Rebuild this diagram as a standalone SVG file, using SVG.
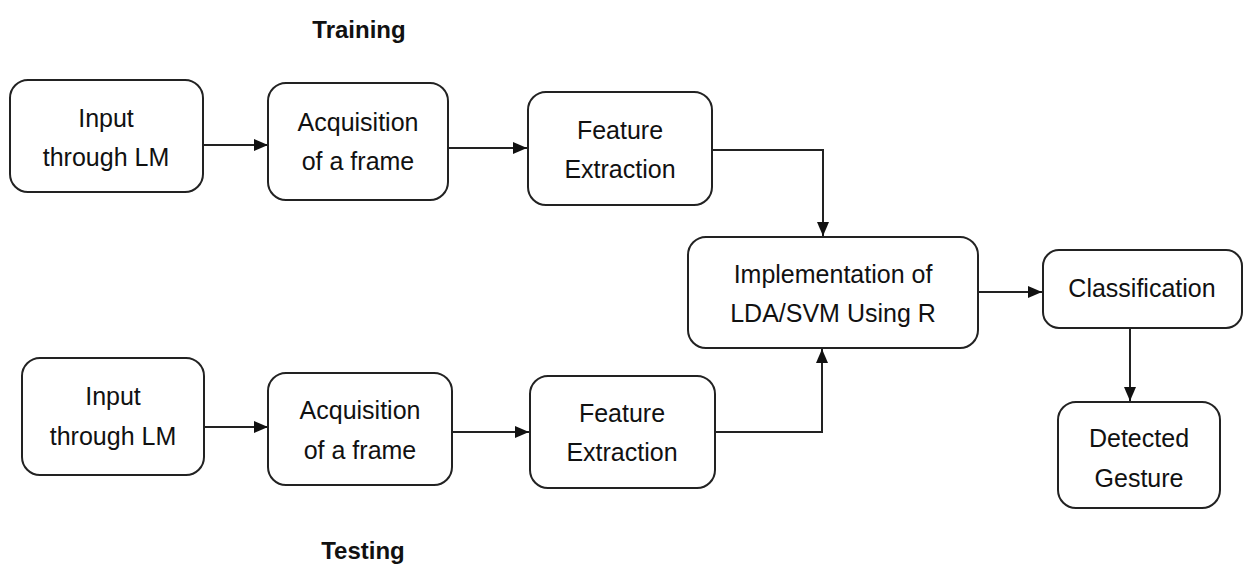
<svg xmlns="http://www.w3.org/2000/svg" width="1243" height="566" viewBox="0 0 1243 566">
<style>
.box{fill:#fff;stroke:#222;stroke-width:2}
.t{font-family:"Liberation Sans",Arial,sans-serif;font-size:25px;fill:#111;text-anchor:middle}
.h{font-family:"Liberation Sans",Arial,sans-serif;font-size:24px;font-weight:bold;fill:#111;text-anchor:middle}
.c{fill:none;stroke:#222;stroke-width:2}
</style>
<defs>
<marker id="a" viewBox="0 0 14 12" refX="14" refY="6" markerWidth="14" markerHeight="12" markerUnits="userSpaceOnUse" orient="auto"><path d="M0,0L14,6L0,12z" fill="#111"/></marker>
</defs>
<rect width="1243" height="566" fill="#fff"/>
<text class="h" x="359" y="38">Training</text>
<text class="h" x="363" y="559">Testing</text>
<g id="connectors">
<path class="c" d="M204,145H268" marker-end="url(#a)"/>
<path class="c" d="M449,148H527" marker-end="url(#a)"/>
<path class="c" d="M713,150H823V236" marker-end="url(#a)"/>
<path class="c" d="M979,292H1042" marker-end="url(#a)"/>
<path class="c" d="M1130,328V401" marker-end="url(#a)"/>
<path class="c" d="M205,427H268" marker-end="url(#a)"/>
<path class="c" d="M453,432H529" marker-end="url(#a)"/>
<path class="c" d="M716,432H822V349" marker-end="url(#a)"/>
</g>
<g id="train-input"><rect class="box" x="10" y="80" width="193" height="112" rx="18"/><text class="t" x="106" y="127">Input</text><text class="t" x="106" y="166">through LM</text></g>
<g id="train-acq"><rect class="box" x="268" y="83" width="180" height="117" rx="18"/><text class="t" x="358" y="131">Acquisition</text><text class="t" x="358" y="170">of a frame</text></g>
<g id="train-feat"><rect class="box" x="528" y="92" width="184" height="113" rx="18"/><text class="t" x="620" y="139">Feature</text><text class="t" x="620" y="178">Extraction</text></g>
<g id="impl"><rect class="box" x="688" y="237" width="290" height="111" rx="18"/><text class="t" x="833" y="283">Implementation of</text><text class="t" x="833" y="322">LDA/SVM Using R</text></g>
<g id="classif"><rect class="box" x="1043" y="250" width="199" height="78" rx="16"/><text class="t" x="1142" y="297">Classification</text></g>
<g id="detected"><rect class="box" x="1058" y="402" width="162" height="106" rx="18"/><text class="t" x="1139" y="447">Detected</text><text class="t" x="1139" y="487">Gesture</text></g>
<g id="test-input"><rect class="box" x="22" y="358" width="182" height="117" rx="18"/><text class="t" x="113" y="405">Input</text><text class="t" x="113" y="445">through LM</text></g>
<g id="test-acq"><rect class="box" x="268" y="373" width="184" height="112" rx="18"/><text class="t" x="360" y="419">Acquisition</text><text class="t" x="360" y="459">of a frame</text></g>
<g id="test-feat"><rect class="box" x="530" y="376" width="185" height="112" rx="18"/><text class="t" x="622" y="422">Feature</text><text class="t" x="622" y="461">Extraction</text></g>
</svg>
